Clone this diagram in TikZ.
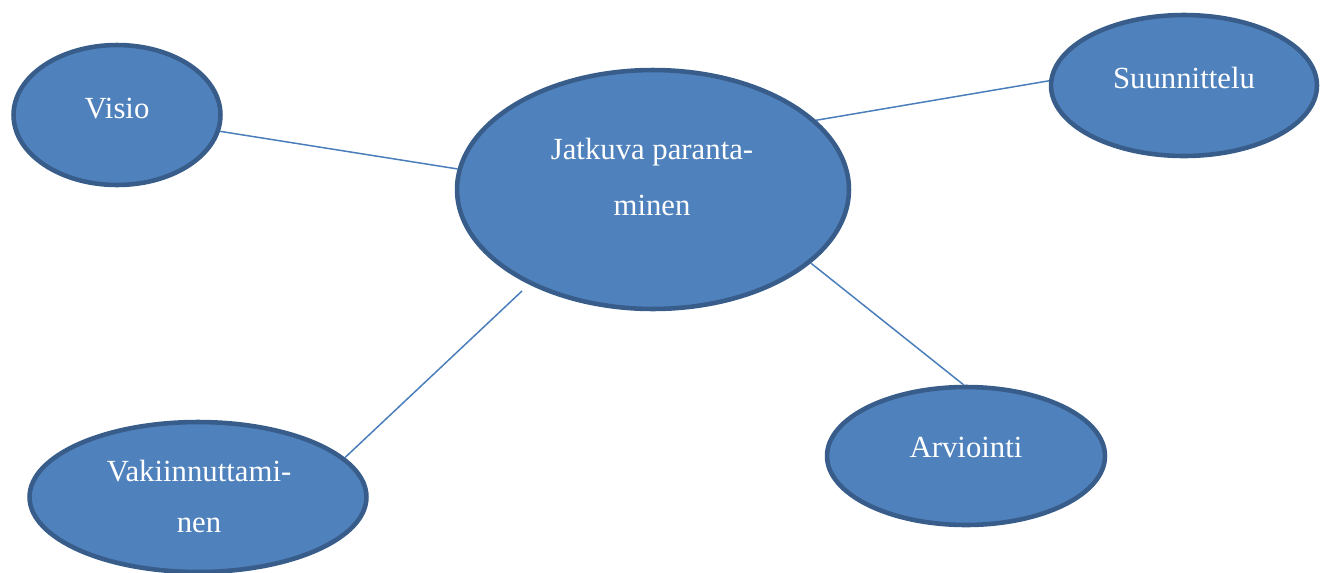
\documentclass[tikz,border=0pt]{standalone}
\usepackage{fontspec}
\setmainfont{Liberation Serif}
\usepackage{tikz}
\usetikzlibrary{shapes.geometric}

\definecolor{bubblefill}{HTML}{4F81BD}
\definecolor{bubbleline}{HTML}{385D8A}
\definecolor{linkline}{HTML}{4A7EBB}

\tikzset{
    bubble/.style={ellipse, draw=bubbleline, fill=bubblefill, line width=2.6pt, inner sep=0pt},
    word/.style={text=white, font=\fontsize{17.5}{31.6}\selectfont, anchor=base, align=center, inner sep=0pt},
    link/.style={draw=linkline, line width=0.85pt}
}

\begin{document}
\begin{tikzpicture}[x=0.02cm, y=-0.02cm]
        \useasboundingbox (0,0) rectangle (1325,572);

        % Ellipses
        \node[bubble, minimum width=7.84cm, minimum height=4.78cm] (main) at (653,189.5) {};
        \node[bubble, minimum width=4.14cm, minimum height=2.80cm] (visio) at (117,115) {};
        \node[bubble, minimum width=5.32cm, minimum height=2.82cm] (suun) at (1184,85.5) {};
        \node[bubble, minimum width=5.56cm, minimum height=2.76cm] (arvi) at (966,456) {};
        \node[bubble, minimum width=6.74cm, minimum height=3.00cm] (vaki) at (198,497) {};

        % Texts (base = last line)
        \node[word] (main-t) at (652,215) {Jatkuva paranta-\\minen};
        \node[word] (visio-t) at (117,118) {Visio};
        \node[word] (suun-t) at (1184,88) {Suunnittelu};
        \node[word] (arvi-t) at (966,457) {Arviointi};
        \node[word] (vaki-t) at (199,532) {Vakiinnuttami-\\[-3pt]nen};

        % Lines
        \coordinate (gap) at (522,291);
        \draw[link] (visio.-9.9) -- (main.174.9);
        \draw[link] (main.23.7) -- (suun.178.1);
        \draw[link] (main.-25.5) -- (arvi.92.4);
        \draw[link] (vaki.15.8) -- (gap);
    \end{tikzpicture}
\end{document}
